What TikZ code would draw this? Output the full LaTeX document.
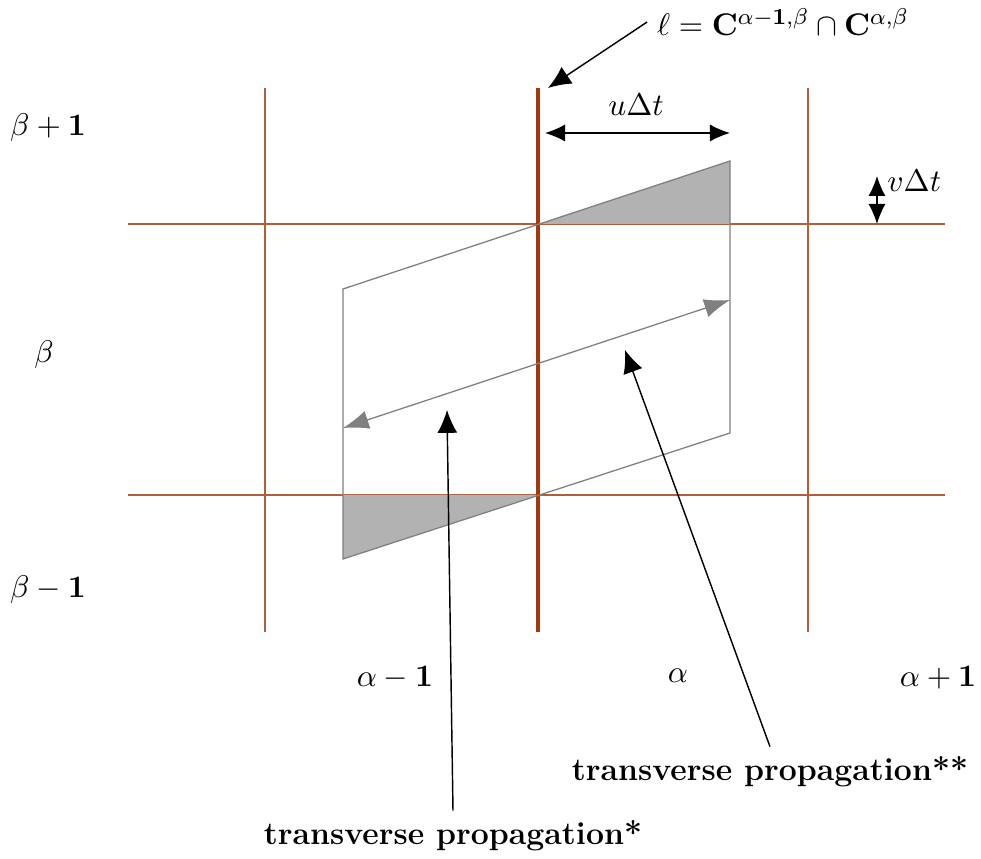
\documentclass[tikz,border=0pt]{standalone}
\usetikzlibrary{arrows.meta}
\definecolor{gridbrown}{RGB}{175,95,60}
\definecolor{cellbrown}{RGB}{165,55,10}
\tikzset{
	grid/.style = {gridbrown, line width=0.45pt},
	face/.style = {gray, line width=0.45pt},
	pointer/.style = {-{Latex[length=8pt,width=7pt]}, line width=0.5pt},
	span/.style = {{Latex[length=7pt,width=6pt]}-{Latex[length=7pt,width=6pt]}, line width=0.5pt},
}
\begin{document}
\begin{tikzpicture}[x=1.23cm, y=1.23cm, every node/.style={font=\fontsize{11.2pt}{13.5pt}\selectfont}]
\useasboundingbox (0,0) rectangle (9.81,8.59);
% cell boundaries
\foreach \x in {2.65,8.08} {
	\draw[grid] (\x,2.27) -- (\x,7.71);
}
\foreach \y in {3.64,6.35} {
	\draw[grid] (1.28,\y) -- (9.45,\y);
}
\draw[cellbrown, line width=1.3pt] (5.38,2.27) -- (5.38,7.71);
% transported face
\coordinate (p1) at (3.43,5.70);
\coordinate (p2) at (7.30,6.98);
\coordinate (p3) at (7.30,4.26);
\coordinate (p4) at (3.43,3.00);
\fill[gray!60] (5.38,6.35) -- (p2) -- (7.30,6.35) -- cycle;
\fill[gray!60] (3.43,3.64) -- (p4) -- (5.38,3.64) -- cycle;
\draw[face] (p1) -- (p2) -- (p3) -- (p4) -- cycle;
\coordinate (a1) at (3.43,4.31);
\coordinate (a2) at (7.30,5.59);
\draw[face, {Latex[length=9pt,width=6.5pt]}-{Latex[length=9pt,width=6.5pt]}] (a1) -- (a2);
% displacements
\coordinate (u1) at (5.45,7.26);
\coordinate (u2) at (7.30,7.26);
\draw[span] (u1) -- (u2);
\node (ulabel) at (6.36,7.54) {$u\Delta t$};
\coordinate (v1) at (8.77,6.83);
\coordinate (v2) at (8.77,6.35);
\draw[span] (v1) -- (v2);
\node[anchor=west, inner sep=1pt] (vlabel) at (8.84,6.78) {$v\Delta t$};
% interface
\node (ell) at (7.83,8.37) {$\ell=\mathbf{C}^{\alpha-\mathbf{1},\beta}\cap\mathbf{C}^{\alpha,\beta}$};
\coordinate (top) at (5.48,7.71);
\draw[pointer] (ell.west) -- (top);
% cell indices
\foreach \name / \x / \y / \txt in {bp/0.48/7.31/{\beta+\mathbf{1}}, b/0.44/5.04/{\beta}, bm/0.48/2.69/{\beta-\mathbf{1}},
	am/3.95/1.81/{\alpha-\mathbf{1}}, a/6.78/1.83/{\alpha}, ap/9.38/1.81/{\alpha+\mathbf{1}}} {
	\node (\name) at (\x,\y) {$\txt$};
}
% propagation
\node (tp1) at (4.53,0.23) {\textbf{transverse propagation*}};
\coordinate (t1) at (4.47,4.49);
\draw[pointer] (tp1.north) -- (t1);
\node (tp2) at (7.70,0.87) {\textbf{transverse propagation**}};
\coordinate (t2) at (6.25,5.09);
\draw[pointer] (tp2.north) -- (t2);
\end{tikzpicture}
\end{document}
